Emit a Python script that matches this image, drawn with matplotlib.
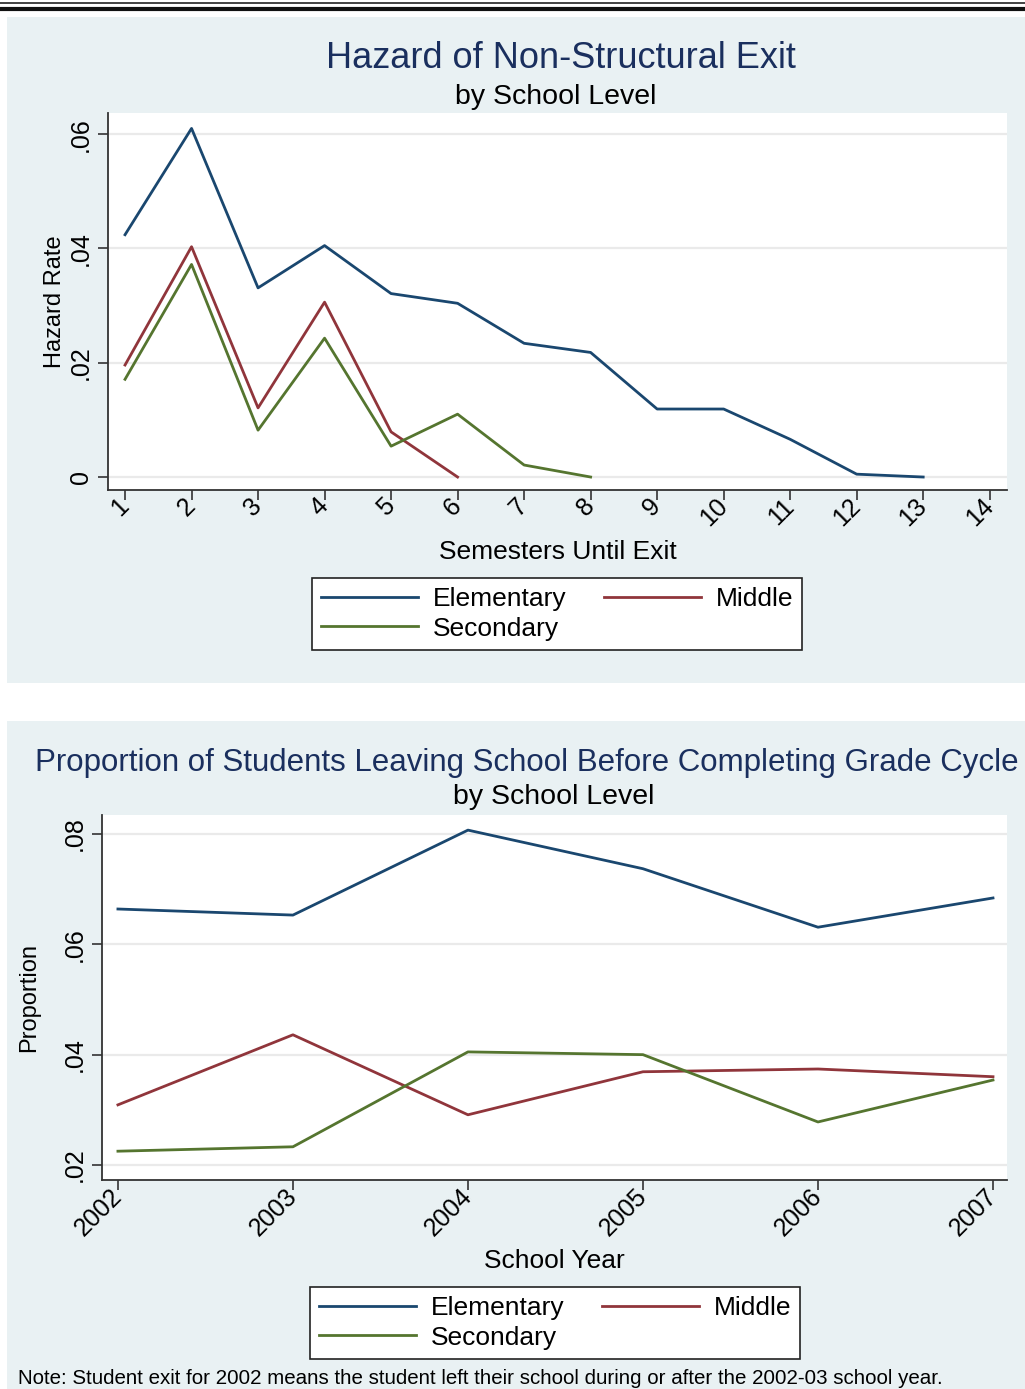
import matplotlib.pyplot as plt
import matplotlib.patches as patches
from matplotlib.lines import Line2D

plt.rcParams['font.family'] = ['Liberation Sans', 'DejaVu Sans']

# Hazard of non-structural exit by semester
semesters = list(range(1, 15))
haz_elementary = [0.0424, 0.0610, 0.0331, 0.0405, 0.0321, 0.0304, 0.0234, 0.0218,
                  0.0119, 0.0119, 0.0066, 0.0005, 0.0]
haz_middle = [0.0196, 0.0403, 0.0121, 0.0306, 0.0079, 0.0]
haz_secondary = [0.0171, 0.0372, 0.0082, 0.0243, 0.0054, 0.0110, 0.0021, 0.0]

# Proportion leaving before completing grade cycle, by school year
years = [2002, 2003, 2004, 2005, 2006, 2007]
prop_elementary = [0.0664, 0.0653, 0.0807, 0.0737, 0.0631, 0.0684]
prop_middle = [0.0309, 0.0436, 0.0291, 0.0369, 0.0374, 0.0360]
prop_secondary = [0.0225, 0.0233, 0.0405, 0.0400, 0.0278, 0.0354]

navy = '#1a476f'
maroon = '#90353b'
green = '#55752f'
panel_bg = '#e9f1f3'
title_col = '#1a2f5e'

W, H = 1025, 1389
fig = plt.figure(figsize=(W / 100, H / 100), dpi=100)
fig.patch.set_facecolor('white')


def px_rect(x0, y0, x1, y1):
    return [x0 / W, 1 - y1 / H, (x1 - x0) / W, (y1 - y0) / H]


def fx(x):
    return x / W


def fy(y):
    return 1 - y / H


# rules across the top
fig.add_artist(Line2D([0, 1], [fy(3), fy(3)], color='#222222', lw=1.2))
fig.add_artist(Line2D([0, 1], [fy(8.5), fy(8.5)], color='#111111', lw=3.0))

# panel backgrounds
for y0, y1 in [(17, 683), (721, 1389)]:
    fig.add_artist(patches.Rectangle((fx(7), fy(y1)), fx(1025 - 7), (y1 - y0) / H,
                                     facecolor=panel_bg, edgecolor='none', zorder=0))


def style_axes(ax, yticks, ylabels):
    ax.set_facecolor('white')
    ax.spines['top'].set_visible(False)
    ax.spines['right'].set_visible(False)
    for s in ['left', 'bottom']:
        ax.spines[s].set_color('#333333')
        ax.spines[s].set_linewidth(1.3)
    ax.set_yticks(yticks)
    ax.set_yticklabels(ylabels, rotation=90, va='center', fontsize=18)
    ax.grid(axis='y', color='#eaeaea', lw=1.6)
    ax.set_axisbelow(True)
    ax.tick_params(length=7, width=1.2, color='#333333', labelsize=18, pad=4)
    ax.tick_params(axis='x', pad=2)


def add_legend(handles, labels, cx, cy):
    order = [0, 2, 1]
    leg = fig.legend([handles[i] for i in order], [labels[i] for i in order],
                     ncol=2, loc='center', bbox_to_anchor=(fx(cx), fy(cy)),
                     fontsize=19, frameon=True, fancybox=False, edgecolor='#222222',
                     framealpha=1, handlelength=3.7, handletextpad=0.55,
                     columnspacing=1.4, labelspacing=0.2, borderpad=0.35)
    leg.get_frame().set_linewidth(1.2)


# top panel
ax1 = fig.add_axes(px_rect(108, 113, 1007, 490))
l1, = ax1.plot(semesters[:len(haz_elementary)], haz_elementary, color=navy, lw=2)
l2, = ax1.plot(semesters[:len(haz_middle)], haz_middle, color=maroon, lw=2)
l3, = ax1.plot(semesters[:len(haz_secondary)], haz_secondary, color=green, lw=2)
ax1.set_xlim(0.744, 14.26)
ax1.set_ylim(-0.00227, 0.0637)
style_axes(ax1, [0, 0.02, 0.04, 0.06], ['0', '.02', '.04', '.06'])
ax1.set_xticks(semesters)
ax1.set_xticklabels([str(s) for s in semesters], rotation=45, ha='right', va='center',
                    rotation_mode='anchor', fontsize=18)
ax1.set_xlabel('Semesters Until Exit', fontsize=19, labelpad=7)
ax1.set_ylabel('Hazard Rate', fontsize=17, labelpad=2)
fig.text(fx(561), fy(58), 'Hazard of Non-Structural Exit', ha='center', va='center',
         fontsize=26, color=title_col)
fig.text(fx(556), fy(97), 'by School Level', ha='center', va='center', fontsize=20.5)
add_legend([l1, l2, l3], ['Elementary', 'Middle', 'Secondary'], 557, 614)

# bottom panel
ax2 = fig.add_axes(px_rect(102, 815, 1007, 1180))
m1, = ax2.plot(years, prop_elementary, color=navy, lw=2)
m2, = ax2.plot(years, prop_middle, color=maroon, lw=2)
m3, = ax2.plot(years, prop_secondary, color=green, lw=2)
ax2.set_xlim(2001.909, 2007.08)
ax2.set_ylim(0.01728, 0.08344)
style_axes(ax2, [0.02, 0.04, 0.06, 0.08], ['.02', '.04', '.06', '.08'])
ax2.set_xticks(years)
ax2.set_xticklabels([str(y) for y in years], rotation=45, ha='right', va='center',
                    rotation_mode='anchor', fontsize=18)
ax2.set_xlabel('School Year', fontsize=19, labelpad=6)
ax2.set_ylabel('Proportion', fontsize=17, labelpad=16)
fig.text(fx(527), fy(763), 'Proportion of Students Leaving School Before Completing Grade Cycle',
         ha='center', va='center', fontsize=22.5, color=title_col)
fig.text(fx(554), fy(797), 'by School Level', ha='center', va='center', fontsize=20.5)
add_legend([m1, m2, m3], ['Elementary', 'Middle', 'Secondary'], 555, 1323)

fig.text(fx(18), fy(1378), 'Note: Student exit for 2002 means the student left their school '
         'during or after the 2002-03 school year.', ha='left', va='center', fontsize=14.8)

fig.savefig('out.png', dpi=100)
